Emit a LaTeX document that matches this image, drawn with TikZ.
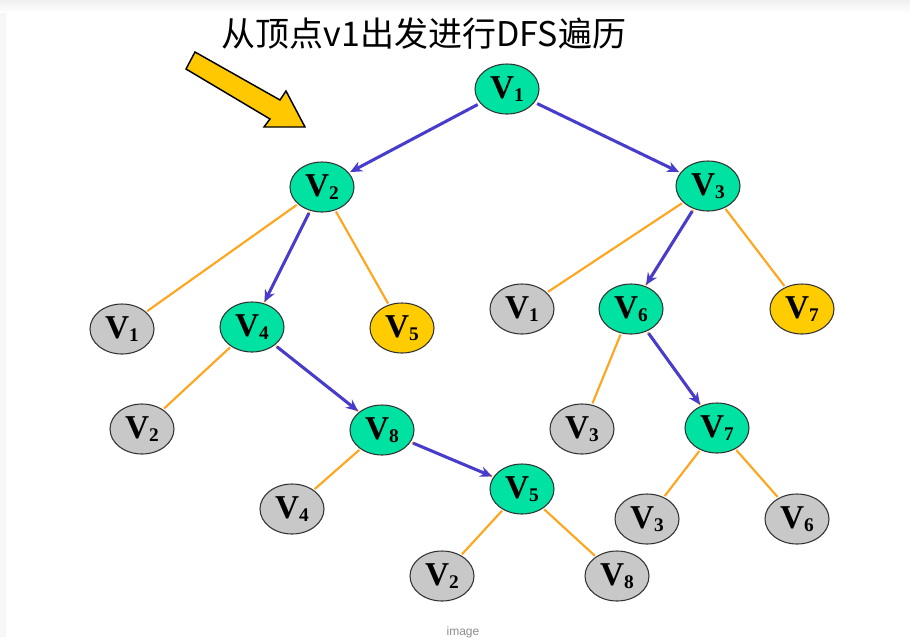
\documentclass[tikz,border=0pt]{standalone}
\usepackage{fontspec}
\setmainfont{Liberation Serif}
\newfontfamily\cjk{Noto Sans CJK SC}
\newfontfamily\capfont{Liberation Sans}
\usetikzlibrary{shapes.geometric,arrows.meta}
\definecolor{ngreen}{RGB}{0,226,162}
\definecolor{ngray}{RGB}{200,200,200}
\definecolor{nyellow}{RGB}{255,204,0}
\definecolor{bigyellow}{RGB}{255,200,0}
\definecolor{eorange}{RGB}{255,165,30}
\definecolor{eblue}{RGB}{72,60,205}
\newcommand{\vlab}[1]{{\bfseries\fontsize{25}{25}\selectfont V\raisebox{-2.5pt}{\fontsize{14.5}{14.5}\selectfont #1}}}
\tikzset{
  vnode/.style={ellipse, draw=black!80, line width=0.8pt, minimum width=48pt, minimum height=37.5pt, inner sep=0pt},
  visited/.style={vnode, fill=ngreen},
  backn/.style={vnode, fill=ngray},
  leafy/.style={vnode, fill=nyellow},
  oedge/.style={draw=eorange, line width=1.6pt, shorten <=1pt, shorten >=1pt},
  bedge/.style={draw=eblue, line width=2.3pt, -{Stealth[length=9pt,width=8pt]}, shorten <=2pt, shorten >=1pt}
}
\begin{document}
\begin{tikzpicture}[x=0.75pt,y=-0.75pt]
\useasboundingbox (0,0) rectangle (910,637);
\fill[white] (0,0) rectangle (910,637);
\shade[top color=black!6, bottom color=white] (0,0) rectangle (910,13);
\fill[black!3] (0,13) rectangle (6,637);
% title
\node[font=\cjk\fontsize{25.5}{25.5}\selectfont, anchor=center] (title) at (424,34) {从顶点v1出发进行DFS遍历};
% big arrow
\filldraw[fill=bigyellow, draw=black, line width=1.1pt, line join=miter]
  (195,52) -- (280,100) -- (286,91) -- (305,127) -- (264,127) -- (270,119) -- (186,69) -- cycle;
% nodes
\node[visited] (a1) at (507,89) {\vlab{1}};
\node[visited] (a2) at (322,187) {\vlab{2}};
\node[visited] (a3) at (708,186) {\vlab{3}};
\node[backn] (g1) at (122,329) {\vlab{1}};
\node[visited] (a4) at (252,327) {\vlab{4}};
\node[leafy] (y5) at (402,328) {\vlab{5}};
\node[backn] (g1b) at (522,309) {\vlab{1}};
\node[visited] (a6) at (631,309) {\vlab{6}};
\node[leafy] (y7) at (802,309) {\vlab{7}};
\node[backn] (g2) at (142,429) {\vlab{2}};
\node[visited] (a8) at (382,430) {\vlab{8}};
\node[backn] (g3) at (582,429) {\vlab{3}};
\node[visited] (a7) at (717,428) {\vlab{7}};
\node[backn] (g4) at (292,509) {\vlab{4}};
\node[visited] (a5) at (522,489) {\vlab{5}};
\node[backn] (g3b) at (647,519) {\vlab{3}};
\node[backn] (g6) at (797,519) {\vlab{6}};
\node[backn] (g2b) at (442,576) {\vlab{2}};
\node[backn] (g8) at (617,576) {\vlab{8}};
% orange edges
\draw[oedge] (a2) -- (g1);
\draw[oedge] (a2) -- (a4);
\draw[oedge] (a2) -- (y5);
\draw[oedge] (a4) -- (g2);
\draw[oedge] (a4) -- (a8);
\draw[oedge] (a8) -- (g4);
\draw[oedge] (a8) -- (a5);
\draw[oedge] (a5) -- (g2b);
\draw[oedge] (a5) -- (g8);
\draw[oedge] (a3) -- (g1b);
\draw[oedge] (a3) -- (a6);
\draw[oedge] (a3) -- (y7);
\draw[oedge] (a6) -- (g3);
\draw[oedge] (a6) -- (a7);
\draw[oedge] (a7) -- (g3b);
\draw[oedge] (a7) -- (g6);
% blue DFS arrows
\draw[bedge] (a1) -- (a2);
\draw[bedge] (a1) -- (a3);
\draw[bedge] (a2) -- (a4);
\draw[bedge] (a4) -- (a8);
\draw[bedge] (a8) -- (a5);
\draw[bedge] (a3) -- (a6);
\draw[bedge] (a6) -- (a7);
% caption
\node[font=\capfont\fontsize{9}{9}\selectfont, text=black!45, anchor=base, inner sep=0pt] (cap) at (463,635) {image};
\end{tikzpicture}
\end{document}
